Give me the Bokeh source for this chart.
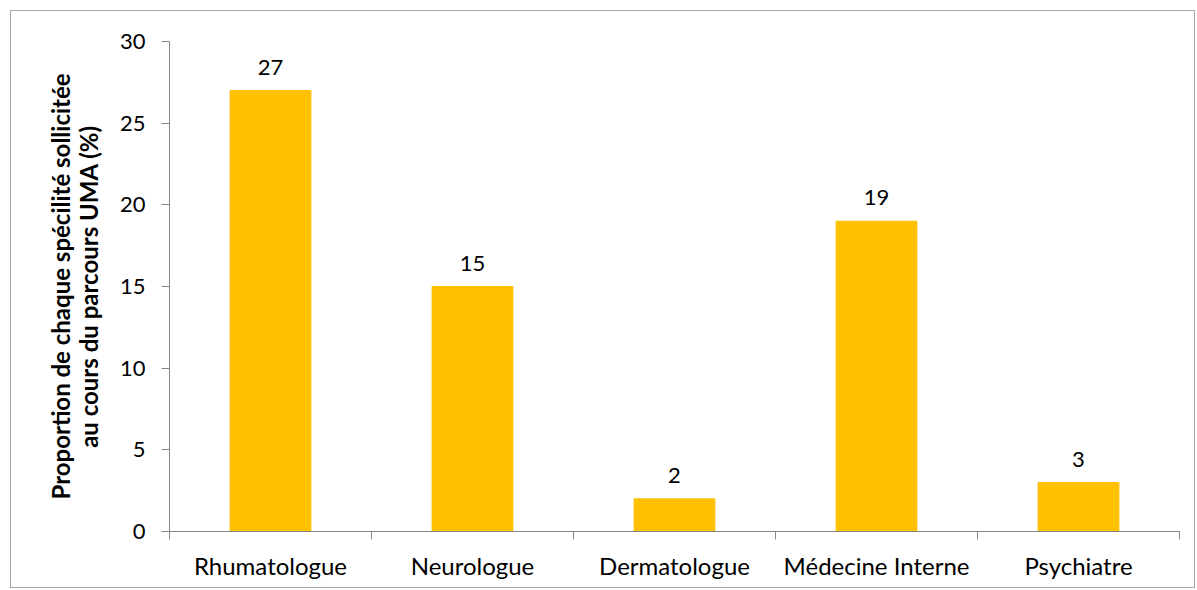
from bokeh.plotting import figure
from bokeh.models import ColumnDataSource, FixedTicker, Range1d
from bokeh.core.properties import value
from bokeh.embed import file_html
from bokeh.resources import INLINE

categories = ["Rhumatologue", "Neurologue", "Dermatologue", "Médecine Interne", "Psychiatre"]
values = [27, 15, 2, 19, 3]
y_ticks = [0, 5, 10, 15, 20, 25, 30]

FONT = "Lato"
positions = [i + 0.5 for i in range(len(categories))]
src = ColumnDataSource(dict(x=positions, top=values, lab=[str(v) for v in values]))

p = figure(width=1185, height=578, output_backend="svg", toolbar_location=None,
           x_range=Range1d(0, len(categories)), y_range=Range1d(0, 30),
           min_border_left=158, min_border_top=30, min_border_right=17, min_border_bottom=58)
p.styles = {"border": "1px solid #A6A6A6", "box-sizing": "border-box", "margin": "10px 0 0 10px"}
p.outline_line_color = None
p.grid.visible = False

p.vbar(x="x", top="top", width=0.4, bottom=0, source=src, color="#FFC000")
p.text(x="x", y="top", text="lab", source=src, text_align="center", text_baseline="bottom",
       y_offset=-16, text_font=value(FONT), text_font_size="22px", text_color="#000000")

ax = p.xaxis[0]
ax.ticker = FixedTicker(ticks=positions, minor_ticks=list(range(len(categories) + 1)))
ax.major_label_overrides = {pos: c for pos, c in zip(positions, categories)}
ax.major_tick_line_alpha = 0
ax.major_tick_out = 8
ax.major_tick_in = 0
ax.minor_tick_out = 8
ax.minor_tick_in = 0
ax.minor_tick_line_color = "#868686"
ax.axis_line_color = "#868686"
ax.major_label_text_font = FONT
ax.major_label_text_font_size = "24px"
ax.major_label_text_color = "#000000"
ax.major_label_standoff = 11

ay = p.yaxis[0]
ay.ticker = FixedTicker(ticks=y_ticks)
ay.minor_tick_line_color = None
ay.major_tick_out = 8
ay.major_tick_in = 0
ay.major_tick_line_color = "#868686"
ay.axis_line_color = "#868686"
ay.major_label_text_font = FONT
ay.major_label_text_font_size = "22px"
ay.major_label_text_color = "#000000"
ay.major_label_standoff = 16
ay.axis_label = "Proportion de chaque spécilité sollicitée\nau cours du parcours UMA (%)"
ay.axis_label_text_font = FONT
ay.axis_label_text_font_style = "bold"
ay.axis_label_text_font_size = "24px"
ay.axis_label_text_line_height = 0.95
ay.axis_label_text_color = "#000000"
ay.axis_label_standoff = 14

open("out.html", "w").write(file_html(p, INLINE))
